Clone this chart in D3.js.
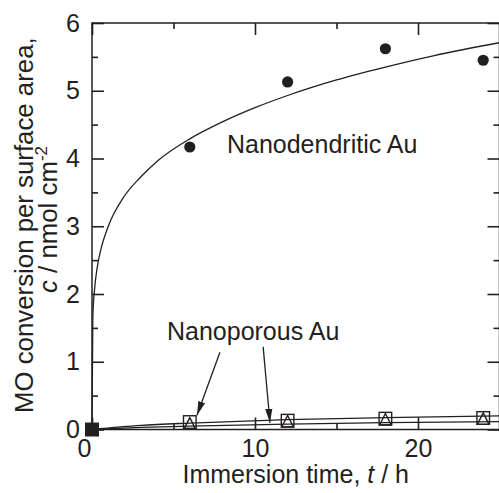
<!DOCTYPE html>
<html>
<head>
<meta charset="utf-8">
<script src="https://cdn.jsdelivr.net/npm/d3@7"></script>
<style>
  body { margin: 0; background: #fff; }
  svg { display: block; font-family: "Liberation Sans", Arial, Helvetica, sans-serif; }
  .axis text { font-size: 25px; fill: #231f20; }
  .axis path { display: none; }
</style>
</head>
<body>
<div class="chart"></div>
<script>
// measured points
const hours = [0, 6, 12, 18, 24]
const dendriticValues = [0, 4.17, 5.13, 5.62, 5.45]
const porousSquareValues = [0, 0.11, 0.13, 0.16, 0.17]
const porousTriangleValues = [0, 0.08, 0.11, 0.14, 0.15]

// fitted curves
const dendriticFitHours = [0, 0.05, 0.15, 0.3, 0.6, 1, 2, 3, 4, 6, 8, 10, 12, 15, 18, 21, 25]
const dendriticFitValues = [0, 1.65, 2.05, 2.36, 2.71, 3.0, 3.45, 3.73, 3.96, 4.29, 4.54, 4.75, 4.93, 5.16, 5.35, 5.52, 5.71]
const porousFitHours = [0, 3, 6, 12, 18, 25]
const porousUpperFitValues = [0, 0.06, 0.095, 0.145, 0.175, 0.2]
const porousLowerFitValues = [0, 0.03, 0.05, 0.08, 0.1, 0.115]

const xMajorTicks = [0, 10, 20]
const xMinorTicks = [5, 15, 25]
const yMajorTicks = [0, 1, 2, 3, 4, 5, 6]
const yMinorTicks = [0.5, 1.5, 2.5, 3.5, 4.5, 5.5]

const INK = '#231f20'
const width = 499
const height = 493
const margin = {top: 23, right: -0.5, bottom: 63.5, left: 92}

const svg = d3.select('.chart').append('svg')
  .attr('width', width)
  .attr('height', height)

const x = d3.scaleLinear().domain([0, 25]).range([margin.left, width - margin.right])
const y = d3.scaleLinear().domain([0, 6]).range([height - margin.bottom, margin.top])

svg.append('defs').append('marker')
  .attr('id', 'head')
  .attr('markerUnits', 'userSpaceOnUse')
  .attr('viewBox', '0 -4 14 8')
  .attr('refX', 14)
  .attr('refY', 0)
  .attr('markerWidth', 14)
  .attr('markerHeight', 8)
  .attr('orient', 'auto')
  .append('path')
  .attr('d', 'M0,-3.6L14,0L0,3.6Z')
  .attr('fill', INK)

// frame
svg.append('rect')
  .attr('x', x(0))
  .attr('y', y(6))
  .attr('width', x(25) - x(0))
  .attr('height', y(0) - y(6))
  .attr('fill', 'none')
  .attr('stroke', INK)
  .attr('stroke-width', 1.5)

function addAxis (axisFn, scale, ticks, size, pos, labels, pad) {
  const a = axisFn(scale).tickValues(ticks).tickSizeInner(-size).tickSizeOuter(0).tickPadding(pad)
  a.tickFormat(labels ? d3.format('d') : '')
  const g = svg.append('g').attr('class', 'axis').attr('transform', pos).call(a)
  g.selectAll('.tick line').attr('stroke', INK).attr('stroke-width', 1.6)
  return g
}

const xAxis = addAxis(d3.axisBottom, x, xMajorTicks, 12, `translate(0,${y(0)})`, true, 10)
// the zero is pushed left, clear of the y-axis zero
xAxis.selectAll('.tick text').filter(d => d === 0).attr('dx', -8)
addAxis(d3.axisBottom, x, xMinorTicks, 6, `translate(0,${y(0)})`, false, 0)
addAxis(d3.axisTop, x, xMajorTicks, 12, `translate(0,${y(6)})`, false, 0)
addAxis(d3.axisTop, x, xMinorTicks, 6, `translate(0,${y(6)})`, false, 0)
addAxis(d3.axisLeft, y, yMajorTicks, 12, `translate(${x(0)},0)`, true, 12)
addAxis(d3.axisLeft, y, yMinorTicks, 6, `translate(${x(0)},0)`, false, 0)
addAxis(d3.axisRight, y, yMajorTicks, 12, `translate(${x(25)},0)`, false, 0)
addAxis(d3.axisRight, y, yMinorTicks, 6, `translate(${x(25)},0)`, false, 0)

// fit lines
const line = d3.line().x(d => x(d[0])).y(d => y(d[1])).curve(d3.curveMonotoneX)
const fits = [
  [dendriticFitHours, dendriticFitValues],
  [porousFitHours, porousUpperFitValues],
  [porousFitHours, porousLowerFitValues]
]
svg.append('g').selectAll('path')
  .data(fits)
  .join('path')
  .attr('d', f => line(d3.zip(f[0], f[1])))
  .attr('fill', 'none')
  .attr('stroke', INK)
  .attr('stroke-width', 1.3)

// markers
const plot = svg.append('g')

plot.selectAll('circle')
  .data(d3.zip(hours, dendriticValues))
  .join('circle')
  .attr('cx', d => x(d[0]))
  .attr('cy', d => y(d[1]))
  .attr('r', 5.6)
  .attr('fill', INK)

plot.selectAll('path.tri')
  .data(d3.zip(hours, porousTriangleValues))
  .join('path')
  .attr('class', 'tri')
  .attr('d', d => `M${x(d[0])},${y(d[1]) - 6.5}L${x(d[0]) + 5.8},${y(d[1]) + 5}L${x(d[0]) - 5.8},${y(d[1]) + 5}Z`)
  .attr('fill', 'none')
  .attr('stroke', INK)
  .attr('stroke-width', 1.4)

plot.selectAll('rect.sq')
  .data(d3.zip(hours, porousSquareValues))
  .join('rect')
  .attr('class', 'sq')
  .attr('x', d => x(d[0]) - 6.3)
  .attr('y', d => y(d[1]) - 6.3)
  .attr('width', 12.6)
  .attr('height', 12.6)
  // all three series meet at the origin, which prints as a solid block
  .attr('fill', d => d[0] === 0 ? INK : 'none')
  .attr('stroke', INK)
  .attr('stroke-width', 1.4)

// annotations
const label = (t, c, txt) => svg.append('text')
  .attr('x', x(t)).attr('y', y(c))
  .attr('font-size', 25)
  .attr('fill', INK)
  .text(txt)

label(8.28, 4.08, 'Nanodendritic Au')
label(4.6, 1.32, 'Nanoporous Au')

const arrows = [
  [[7.85, 1.14], [6.44, 0.21]],
  [[10.5, 1.22], [10.92, 0.10]]
]
svg.append('g').selectAll('line')
  .data(arrows)
  .join('line')
  .attr('x1', d => x(d[0][0])).attr('y1', d => y(d[0][1]))
  .attr('x2', d => x(d[1][0])).attr('y2', d => y(d[1][1]))
  .attr('stroke', INK)
  .attr('stroke-width', 1.3)
  .attr('marker-end', 'url(#head)')

// axis titles
const xTitle = svg.append('text')
  .attr('x', (x(0) + x(25)) / 2)
  .attr('y', 483)
  .attr('text-anchor', 'middle')
  .attr('font-size', 25)
  .attr('fill', INK)
xTitle.append('tspan').text('Immersion time, ')
xTitle.append('tspan').attr('font-style', 'italic').text('t')
xTitle.append('tspan').text(' / h')

const cy = (y(0) + y(6)) / 2
const yTitle = svg.append('g')
  .attr('transform', `translate(0,${cy}) rotate(-90)`)
  .attr('font-size', 25.8)
  .attr('fill', INK)
yTitle.append('text')
  .attr('x', cy - 413).attr('y', 33)
  .text('MO conversion per surface area,')
const line2 = yTitle.append('text')
  .attr('x', cy - 293).attr('y', 57)
line2.append('tspan').attr('font-style', 'italic').text('c')
line2.append('tspan').text(' / nmol cm')
line2.append('tspan').attr('font-size', 17).attr('dy', -10).text('-2')
</script>
</body>
</html>
